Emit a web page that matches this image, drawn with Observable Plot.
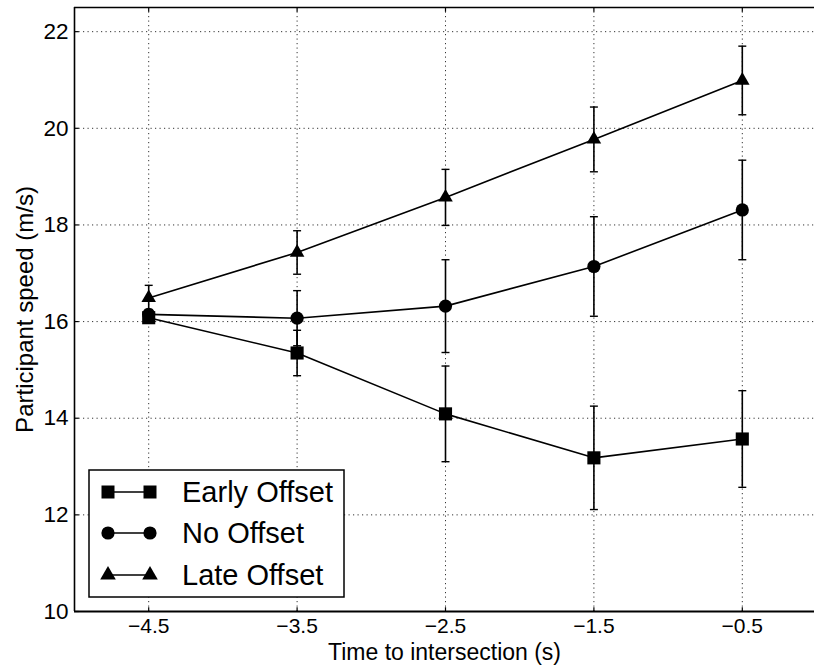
<!DOCTYPE html>
<html>
<head>
<meta charset="utf-8">
<script src="https://cdn.jsdelivr.net/npm/d3@7"></script>
<script src="https://cdn.jsdelivr.net/npm/@observablehq/plot@0.6"></script>
<style>
  html, body { margin: 0; padding: 0; background: #fff; }
  #chart { position: relative; width: 814px; height: 669px; font-family: "Liberation Sans", Arial, sans-serif; }
  #chart svg { display: block; }
  #legend { position: absolute; left: 88px; top: 469px; }
</style>
</head>
<body>
<div id="chart"></div>
<script>
// Time before reaching the intersection (s)
const times = [-4.5, -3.5, -2.5, -1.5, -0.5];

// Mean participant speed (m/s) and error-bar half-widths per condition
const seriesNames = ["Early Offset", "No Offset", "Late Offset"];
const earlySpeed = [16.08, 15.35, 14.09, 13.18, 13.57];
const earlyErr   = [0.10, 0.47, 0.99, 1.07, 1.00];
const noSpeed    = [16.15, 16.07, 16.32, 17.14, 18.31];
const noErr      = [0.10, 0.57, 0.96, 1.03, 1.03];
const lateSpeed  = [16.49, 17.43, 18.57, 19.77, 20.99];
const lateErr    = [0.26, 0.45, 0.58, 0.67, 0.71];

// Axis ticks and titles
const xTicks = [-4.5, -3.5, -2.5, -1.5, -0.5];
const yTicks = [10, 12, 14, 16, 18, 20, 22];
const xDomain = [-5, 0];
const yDomain = [10, 22.5];
const xTitle = "Time to intersection (s)";
const yTitle = "Participant speed (m/s)";

const speeds = [earlySpeed, noSpeed, lateSpeed];
const errs = [earlyErr, noErr, lateErr];
const rows = [];
seriesNames.forEach((name, i) => {
  times.forEach((t, j) => {
    rows.push({series: name, t, speed: speeds[i][j], lo: speeds[i][j] - errs[i][j], hi: speeds[i][j] + errs[i][j]});
  });
});

// Small custom path symbols: error-bar caps and inward axis ticks
const capSymbol = {draw(ctx, size) { const w = Math.sqrt(size) / 2; ctx.moveTo(-w, 0); ctx.lineTo(w, 0); }};
const tickRight = {draw(ctx, size) { const l = Math.sqrt(size); ctx.moveTo(0, 0); ctx.lineTo(l, 0); }};
const tickUp = {draw(ctx, size) { const l = Math.sqrt(size); ctx.moveTo(0, 0); ctx.lineTo(0, -l); }};
const tickDown = {draw(ctx, size) { const l = Math.sqrt(size); ctx.moveTo(0, 0); ctx.lineTo(0, l); }};

const markerStyle = {
  "Early Offset": {symbol: "square", r: 7.4},
  "No Offset": {symbol: "circle", r: 6.6},
  "Late Offset": {symbol: "triangle", r: 5.4}
};

const grid = {stroke: "#000", strokeOpacity: 0.8, strokeWidth: 1, strokeDasharray: "1.2,3.3"};

const seriesMarks = seriesNames.flatMap(name => {
  const data = rows.filter(d => d.series === name);
  return [
    Plot.ruleX(data, {x: "t", y1: "lo", y2: "hi", stroke: "#000", strokeWidth: 1.6}),
    Plot.dot(data, {x: "t", y: "lo", symbol: capSymbol, r: 4.5, stroke: "#000", strokeWidth: 1.4, fill: "none"}),
    Plot.dot(data, {x: "t", y: "hi", symbol: capSymbol, r: 4.5, stroke: "#000", strokeWidth: 1.4, fill: "none"}),
    Plot.line(data, {x: "t", y: "speed", stroke: "#000", strokeWidth: 1.6}),
    Plot.dot(data, {x: "t", y: "speed", symbol: markerStyle[name].symbol, r: markerStyle[name].r, fill: "#000", stroke: "none"})
  ];
});

const chart = Plot.plot({
  width: 814,
  height: 669,
  marginLeft: 74,
  marginRight: 0,
  marginTop: 7,
  marginBottom: 58,
  style: {fontFamily: "'Liberation Sans', Arial, sans-serif", background: "#fff", color: "#000"},
  x: {domain: xDomain, range: [74, 816], axis: null},
  y: {domain: yDomain, axis: null},
  marks: [
    // dotted grid
    Plot.ruleX(xTicks, grid),
    Plot.ruleY(yTicks, grid),
    // inward tick marks
    Plot.dot(yTicks, {x: () => xDomain[0], y: d => d, symbol: tickRight, r: 2.4, stroke: "#000", strokeWidth: 1.2}),
    Plot.dot(xTicks, {x: d => d, y: () => yDomain[0], symbol: tickUp, r: 2.4, stroke: "#000", strokeWidth: 1.2}),
    Plot.dot(xTicks, {x: d => d, y: () => yDomain[1], symbol: tickDown, r: 2.4, stroke: "#000", strokeWidth: 1.2}),
    // axes frame
    Plot.ruleX([xDomain[0]], {stroke: "#000", strokeWidth: 1.6}),
    Plot.ruleY([yDomain[0]], {stroke: "#000", strokeWidth: 1.8}),
    Plot.ruleY([yDomain[1]], {stroke: "#000", strokeWidth: 1.6}),
    // data
    ...seriesMarks,
    // tick labels
    Plot.axisX({ticks: xTicks, tickSize: 0, tickPadding: 7, fontSize: 21, label: null}),
    Plot.axisY({ticks: yTicks, tickSize: 0, tickPadding: 6, fontSize: 22.5, label: null}),
    // axis titles
    Plot.text([xTitle], {frameAnchor: "bottom", dy: 48, lineAnchor: "bottom", textAnchor: "middle", fontSize: 23, text: d => d}),
    Plot.text([yTitle], {frameAnchor: "left", dx: -59, rotate: -90, lineAnchor: "top", textAnchor: "middle", fontSize: 24, text: d => d})
  ]
});

const root = document.getElementById("chart");
root.appendChild(chart);

// Legend box drawn over the lower-left of the plot area
const legendW = 256, legendH = 128;
const legend = d3.create("svg")
  .attr("id", "legend")
  .attr("width", legendW + 2)
  .attr("height", legendH + 2);
legend.append("rect")
  .attr("x", 1).attr("y", 1)
  .attr("width", legendW - 1).attr("height", legendH - 1)
  .attr("fill", "#fff").attr("stroke", "#000").attr("stroke-width", 1.5);

const legendSymbols = {"Early Offset": d3.symbolSquare, "No Offset": d3.symbolCircle, "Late Offset": d3.symbolTriangle};
const legendSize = {"Early Offset": 13 * 13, "No Offset": Math.PI * 6.6 * 6.6, "Late Offset": Math.PI * 5.8 * 5.8};
const rowY = [23, 64, 106];
seriesNames.forEach((name, i) => {
  const g = legend.append("g").attr("transform", `translate(0,${rowY[i]})`);
  g.append("line").attr("x1", 20).attr("x2", 62).attr("stroke", "#000").attr("stroke-width", 1.6);
  [20, 62].forEach(cx => {
    g.append("path")
      .attr("transform", `translate(${cx},0)`)
      .attr("d", d3.symbol(legendSymbols[name], legendSize[name])())
      .attr("fill", "#000");
  });
  g.append("text")
    .attr("x", 94).attr("dy", "0.35em")
    .attr("font-size", 29)
    .attr("font-family", "'Liberation Sans', Arial, sans-serif")
    .attr("fill", "#000")
    .text(name);
});
root.appendChild(legend.node());
</script>
</body>
</html>
